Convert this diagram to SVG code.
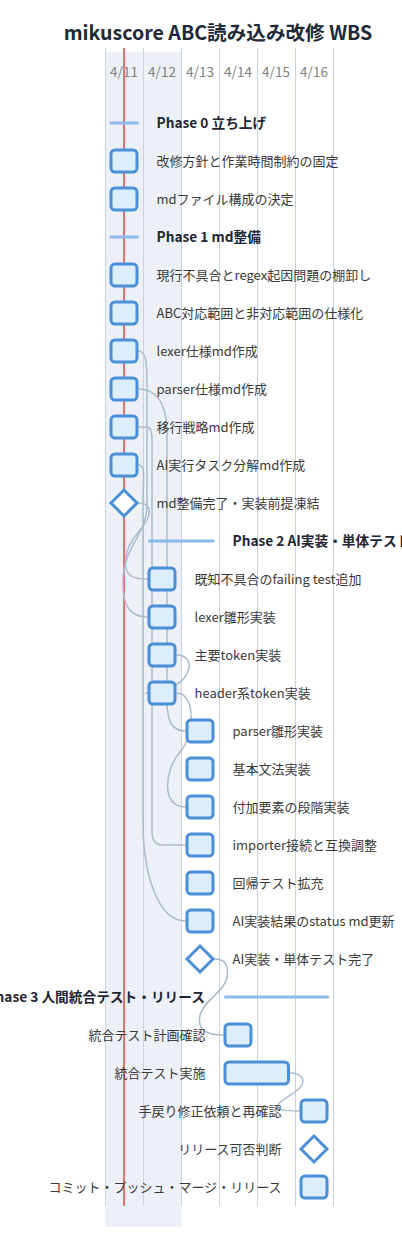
<svg xmlns="http://www.w3.org/2000/svg" width="402" height="1234" viewBox="0 0 402 1234">
<style>
text{font-family:"Noto Sans CJK JP","Liberation Sans",sans-serif}
.title{font-size:19.6px;font-weight:bold;fill:#1f2937}
.date{font-size:13.5px;fill:#808080}
.grid{stroke:#c9d3e0;stroke-width:1}
.lbl{font-size:13px;fill:#3a3a3a}
.ph{font-size:13.7px;font-weight:bold;fill:#1f2533}
.bar{fill:#dcedfc;stroke:#4a8fd8;stroke-width:3}
.ms{fill:#fff;stroke:#4a8fd8;stroke-width:3;stroke-linejoin:miter}
.pbar{stroke:#8db8ea;stroke-width:3}
.dep{fill:none;stroke:#a9bccc;stroke-width:1.5}
.end{text-anchor:end}
</style>
<rect x="0" y="0" width="402" height="1234" fill="#fff"/>
<text class="title" x="218" y="40" text-anchor="middle">mikuscore ABC読み込み改修 WBS</text>
<g id="timeline">
<rect x="105.5" y="52" width="76" height="1175" fill="#edf1f7"/>
<line class="grid" x1="105.5" y1="48" x2="105.5" y2="1206"/>
<line class="grid" x1="143.5" y1="48" x2="143.5" y2="1206"/>
<line class="grid" x1="181.5" y1="48" x2="181.5" y2="1206"/>
<line class="grid" x1="219.5" y1="48" x2="219.5" y2="1206"/>
<line class="grid" x1="257.5" y1="48" x2="257.5" y2="1206"/>
<line class="grid" x1="295.5" y1="48" x2="295.5" y2="1206"/>
<line class="grid" x1="333.5" y1="48" x2="333.5" y2="1206"/>
<g text-anchor="middle">
<text class="date" x="124" y="76.5">4/11</text>
<text class="date" x="162" y="76.5">4/12</text>
<text class="date" x="200" y="76.5">4/13</text>
<text class="date" x="238" y="76.5">4/14</text>
<text class="date" x="276" y="76.5">4/15</text>
<text class="date" x="314" y="76.5">4/16</text>
</g>
<line x1="124" y1="48" x2="124" y2="1206" stroke="#e0736b" stroke-width="2"/>
</g>
<g id="connectors">
<path class="dep" d="M138.5,351 C147,351 147,365 147,390 L147,505 C147,535 124,545 123,580 C122,608 132,617 147.5,617"/>
<path class="dep" d="M138.5,503 C152,503 153,515 140,530 C126,546 124,558 126,568 C128,577 135,579 147.5,579"/>
<path class="dep" d="M138.5,389 C154,389 166,400 167,430 L167,700 C167,722 172,731 185.5,731"/>
<path class="dep" d="M138.5,427 L147,427 C150,427 152,431 152,440 L152,832 C152,841 156,845 163,845 L185.5,845"/>
<path class="dep" d="M138.5,465 C146,465 143,478 143,500 L143,820 C143,880 160,921 185.5,921"/>
<path class="dep" d="M176.5,655 C194,655 193,675 176,685 C160,692 140,693 147.5,693"/>
<path class="dep" d="M176.5,693 C196,693 195,735 180,752 S160,807 185.5,807"/>
<path class="dep" d="M214.5,959 C226,959 229,966 227,978 C224,992 204,1000 200,1015 C197,1030 206,1035 223.5,1035"/>
<path class="dep" d="M290,1073 C300,1073 305,1078 302,1085 C298,1093 282,1098 278,1105 C276,1110 285,1111 299.5,1111"/>
</g>
<g id="p0"><line class="pbar" x1="110" y1="123" x2="138.5" y2="123"/><text class="ph" x="156.5" y="127.5">Phase 0 立ち上げ</text></g>
<g id="t1"><rect class="bar" x="111" y="150" width="26" height="22" rx="4"/><text class="lbl" x="156.5" y="165.5">改修方針と作業時間制約の固定</text></g>
<g id="t2"><rect class="bar" x="111" y="188" width="26" height="22" rx="4"/><text class="lbl" x="156.5" y="203.5">mdファイル構成の決定</text></g>
<g id="p1"><line class="pbar" x1="110" y1="237" x2="138.5" y2="237"/><text class="ph" x="156.5" y="241.5">Phase 1 md整備</text></g>
<g id="t4"><rect class="bar" x="111" y="264" width="26" height="22" rx="4"/><text class="lbl" x="156.5" y="279.5">現行不具合とregex起因問題の棚卸し</text></g>
<g id="t5"><rect class="bar" x="111" y="302" width="26" height="22" rx="4"/><text class="lbl" x="156.5" y="317.5">ABC対応範囲と非対応範囲の仕様化</text></g>
<g id="t6"><rect class="bar" x="111" y="340" width="26" height="22" rx="4"/><text class="lbl" x="156.5" y="355.5">lexer仕様md作成</text></g>
<g id="t7"><rect class="bar" x="111" y="378" width="26" height="22" rx="4"/><text class="lbl" x="156.5" y="393.5">parser仕様md作成</text></g>
<g id="t8"><rect class="bar" x="111" y="416" width="26" height="22" rx="4"/><text class="lbl" x="156.5" y="431.5">移行戦略md作成</text></g>
<g id="t9"><rect class="bar" x="111" y="454" width="26" height="22" rx="4"/><text class="lbl" x="156.5" y="469.5">AI実行タスク分解md作成</text></g>
<g id="m10"><path class="ms" d="M124,490 L137,503 L124,516 L111,503 Z"/><text class="lbl" x="156.5" y="507.5">md整備完了・実装前提凍結</text></g>
<g id="p2"><line class="pbar" x1="148.3" y1="541" x2="214.3" y2="541"/><text class="ph" x="232.5" y="545.5">Phase 2 AI実装・単体テスト</text></g>
<g id="t12"><rect class="bar" x="149" y="568" width="26" height="22" rx="4"/><text class="lbl" x="194.5" y="583.5">既知不具合のfailing test追加</text></g>
<g id="t13"><rect class="bar" x="149" y="606" width="26" height="22" rx="4"/><text class="lbl" x="194.5" y="621.5">lexer雛形実装</text></g>
<g id="t14"><rect class="bar" x="149" y="644" width="26" height="22" rx="4"/><text class="lbl" x="194.5" y="659.5">主要token実装</text></g>
<g id="t15"><rect class="bar" x="149" y="682" width="26" height="22" rx="4"/><text class="lbl" x="194.5" y="697.5">header系token実装</text></g>
<g id="t16"><rect class="bar" x="187" y="720" width="26" height="22" rx="4"/><text class="lbl" x="232.5" y="735.5">parser雛形実装</text></g>
<g id="t17"><rect class="bar" x="187" y="758" width="26" height="22" rx="4"/><text class="lbl" x="232.5" y="773.5">基本文法実装</text></g>
<g id="t18"><rect class="bar" x="187" y="796" width="26" height="22" rx="4"/><text class="lbl" x="232.5" y="811.5">付加要素の段階実装</text></g>
<g id="t19"><rect class="bar" x="187" y="834" width="26" height="22" rx="4"/><text class="lbl" x="232.5" y="849.5">importer接続と互換調整</text></g>
<g id="t20"><rect class="bar" x="187" y="872" width="26" height="22" rx="4"/><text class="lbl" x="232.5" y="887.5">回帰テスト拡充</text></g>
<g id="t21"><rect class="bar" x="187" y="910" width="26" height="22" rx="4"/><text class="lbl" x="232.5" y="925.5">AI実装結果のstatus md更新</text></g>
<g id="m22"><path class="ms" d="M200,946 L213,959 L200,972 L187,959 Z"/><text class="lbl" x="232.5" y="963.5">AI実装・単体テスト完了</text></g>
<g id="p3"><line class="pbar" x1="224.3" y1="997" x2="329" y2="997"/><text class="ph end" x="205" y="1001.5">Phase 3 人間統合テスト・リリース</text></g>
<g id="t24"><rect class="bar" x="225" y="1024" width="26" height="22" rx="4"/><text class="lbl end" x="205.5" y="1039.5">統合テスト計画確認</text></g>
<g id="t25"><rect class="bar" x="225" y="1062" width="63.5" height="22" rx="4"/><text class="lbl end" x="205.5" y="1077.5">統合テスト実施</text></g>
<g id="t26"><rect class="bar" x="301" y="1100" width="26" height="22" rx="4"/><text class="lbl end" x="281.5" y="1115.5">手戻り修正依頼と再確認</text></g>
<g id="m27"><path class="ms" d="M314,1136 L327,1149 L314,1162 L301,1149 Z"/><text class="lbl end" x="281.5" y="1153.5">リリース可否判断</text></g>
<g id="t28"><rect class="bar" x="301" y="1176" width="26" height="22" rx="4"/><text class="lbl end" x="281.5" y="1191.5">コミット・プッシュ・マージ・リリース</text></g>
</svg>
